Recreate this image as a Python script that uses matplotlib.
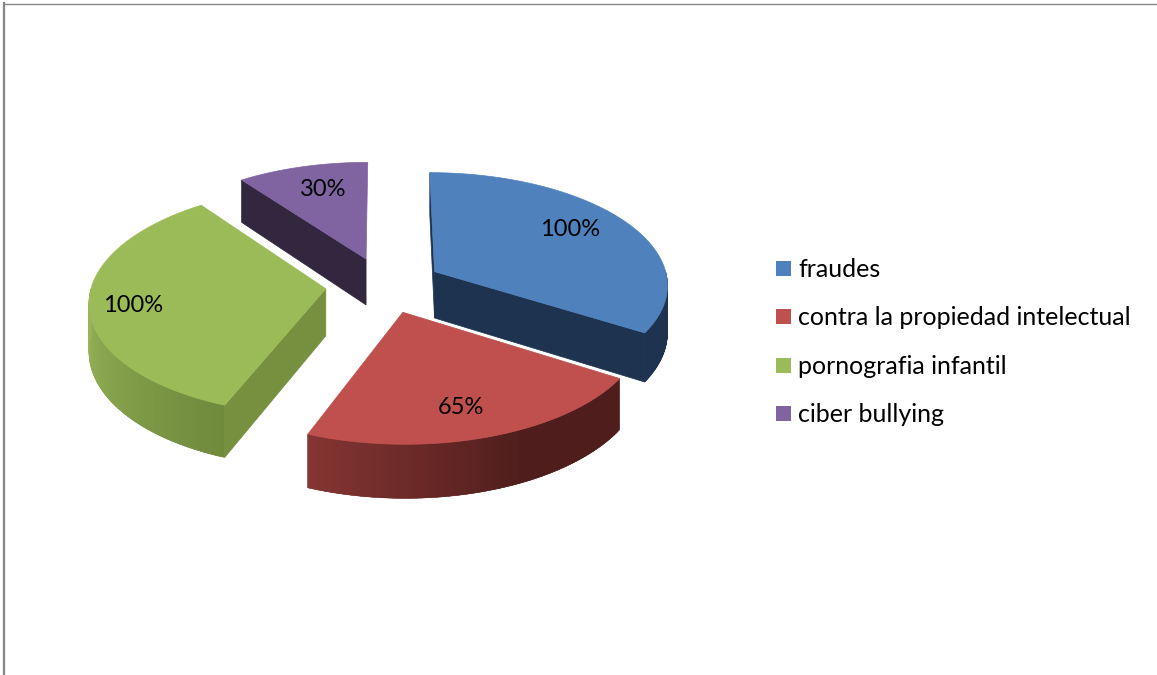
#%%
import numpy as np
import matplotlib.pyplot as plt
from matplotlib.colors import to_rgb
from matplotlib.patches import Polygon, Rectangle

plt.rcParams['font.family'] = ['Lato', 'DejaVu Sans']

#%%
# Data
categories = ['fraudes', 'contra la propiedad intelectual', 'pornografia infantil', 'ciber bullying']
values = [100, 65, 100, 30]
value_labels = ['100%', '65%', '100%', '30%']

top_colors = ['#4F81BD', '#C0504D', '#9BBB59', '#8064A2']
wall_colors = ['#1E3350', '#4F1E1C', '#77903F', '#33273F']
# outer wall colours, start and end of the arc (clockwise)
outer_colors = [('#1E3350', '#1E3350'), ('#4F1E1C', '#853533'), ('#6F8A3C', '#9AB75A'), ('#33273F', '#33273F')]
# part of the arc that stays at the start colour
outer_hold = [0, 0.4, 0, 0]

label_pos = [(570, 229), (461, 407), (133, 306), (323, 189)]
legend_y = [268, 316, 365, 413]

# pie geometry, in pixels
cx, cy = 384, 285
rx, ry = 234, 112
depth = 47
explode = 0.25
persp = 0.105
draw_order = [3, 0, 2, 1]


def project(X, Y, z=0.0):
    s = 1 / (1 + persp * Y)
    return cx + rx * X * s, cy - ry * Y * s + depth * z * s


def rim(theta, off):
    # point on the wedge rim, theta clockwise from 12 o'clock
    return np.sin(theta) + off[0], np.cos(theta) + off[1]


#%%
fig = plt.figure(figsize=(11.57, 6.75), dpi=100)
ax = fig.add_axes([0, 0, 1, 1])
ax.set_xlim(0, 1157)
ax.set_ylim(675, 0)
ax.axis('off')

# chart frame, only top and left are inside the crop
ax.plot([4, 1157], [4, 4], color='#868686', lw=1.0)
ax.plot([4, 4], [3, 675], color='#868686', lw=1.6)

edges = np.radians(np.concatenate([[0], np.cumsum(values)]) / np.sum(values) * 360)

for i in draw_order:
    t1, t2 = edges[i], edges[i + 1]
    mid = (t1 + t2) / 2
    off = (explode * np.sin(mid), explode * np.cos(mid))
    c = project(off[0], off[1])
    c_low = project(off[0], off[1], 1)

    # radial walls that face the viewer
    for t, show in ((t1, np.sin(t1) <= 0), (t2, np.sin(t2) > 1e-6)):
        if show:
            X, Y = rim(t, off)
            ax.add_patch(Polygon([c, project(X, Y), project(X, Y, 1), c_low],
                                 fc=wall_colors[i], ec=wall_colors[i], lw=0.5))

    # outer wall, the front part of the arc only, shaded along the arc
    a = max(t1, np.pi / 2)
    b = min(t2, 3 * np.pi / 2)
    if b > a:
        n = 80
        steps = np.linspace(a, b, n + 1)
        c0 = np.array(to_rgb(outer_colors[i][0]))
        c1 = np.array(to_rgb(outer_colors[i][1]))
        for j in range(n):
            # each strip runs on under the next one, so no seams show
            arc = steps[j:j + 3]
            upper = [project(*rim(t, off)) for t in arc]
            lower = [project(*rim(t, off), 1) for t in arc[::-1]]
            frac = np.clip((j / (n - 1) - outer_hold[i]) / (1 - outer_hold[i]), 0, 1)
            col = c0 + (c1 - c0) * frac
            ax.add_patch(Polygon(upper + lower, fc=col, ec=col, lw=0.3))

    # top face
    arc = np.linspace(t1, t2, 120)
    pts = [c] + [project(*rim(t, off)) for t in arc]
    ax.add_patch(Polygon(pts, fc=top_colors[i], ec=top_colors[i], lw=0.5))

for p, txt in zip(label_pos, value_labels):
    ax.text(p[0], p[1], txt, fontsize=17, color='black', ha='center', va='center', zorder=5)

#%%
# legend
for name, col, y in zip(categories, top_colors, legend_y):
    ax.add_patch(Rectangle((776, y - 7.5), 15, 15, fc=col, ec='none'))
    ax.text(798, y + 1.5, name, fontsize=18, color='black', ha='left', va='center', zorder=5)

fig.savefig('out.png', dpi=100)
